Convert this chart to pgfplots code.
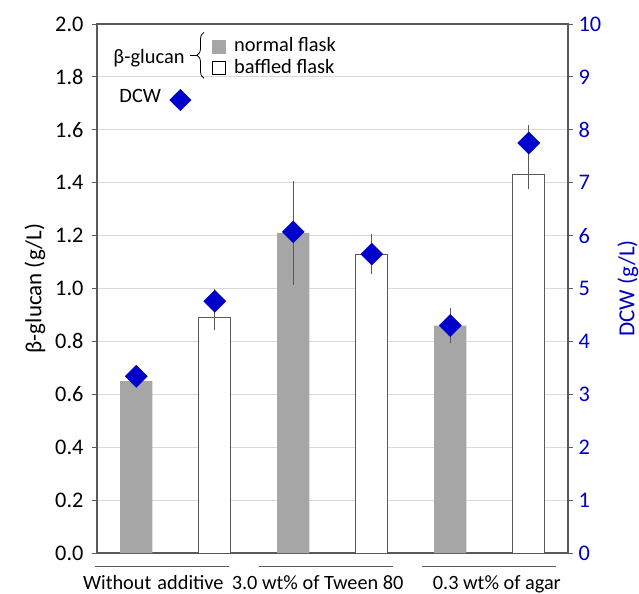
\documentclass[border=0pt]{standalone}
\usepackage{fontspec}
\setmainfont{Carlito}
\usepackage{pgfplots}
\pgfplotsset{compat=1.18}
\usetikzlibrary{decorations.pathreplacing}
\definecolor{barg}{RGB}{166,166,166}
\definecolor{axg}{RGB}{89,89,89}
\definecolor{gridg}{RGB}{217,217,217}
\definecolor{dblue}{RGB}{0,0,204}
\definecolor{tblue}{RGB}{0,0,192}
\definecolor{errg}{RGB}{89,89,89}
\newcommand{\tickfont}{\fontsize{22.3bp}{26bp}\selectfont}
\newcommand{\labfont}{\fontsize{23bp}{27bp}\selectfont}
\newcommand{\legfont}{\fontsize{20.4bp}{24bp}\selectfont}
\newcommand{\catfont}{\fontsize{20.3bp}{24bp}\selectfont}
\begin{document}
\begin{tikzpicture}[font=\legfont]
\path[use as bounding box] (-97bp,-41bp) rectangle (542bp,553bp);
\begin{axis}[
  at={(0,0)}, anchor=south west,
  scale only axis, width=471bp, height=529bp,
  xmin=-0.5, xmax=5.5, ymin=0, ymax=2,
  xtick=\empty,
  ytick={0,0.2,0.4,0.6,0.8,1.0,1.2,1.4,1.6,1.8,2.0},
  ytick pos=left,
  tick align=outside,
  major tick length=5bp,
  tick style={axg, line width=0.8bp},
  ymajorgrids, grid style={gridg, line width=0.9bp},
  axis line style={axg, line width=1.2bp},
  /pgf/number format/assume math mode=true,
  yticklabel style={font=\tickfont, xshift=-5bp, /pgf/number format/fixed, /pgf/number format/fixed zerofill, /pgf/number format/precision=1},
  ylabel={β-glucan (g/L)},
  ylabel style={font=\labfont, at={(axis description cs:-0.132,0.5)}, anchor=center},
  clip=false,
]
\addplot[ybar, bar width=0.41, bar shift=0pt, fill=barg, draw=none,
  error bars/.cd, y dir=both, y explicit,
  error bar style={errg, line width=0.8bp},
  error mark options={errg, line width=0.8bp, mark size=4bp}]
  coordinates {(0,0.65) +- (0,0) (2,1.21) +- (0,0.18) (4,0.86) +- (0,0.05)};
\addplot[ybar, bar width=0.41, bar shift=0pt, fill=white, draw=axg, line width=0.9bp,
  error bars/.cd, y dir=both, y explicit,
  error bar style={errg, line width=0.8bp},
  error mark options={errg, line width=0.8bp, mark size=4bp}]
  coordinates {(1,0.89) +- (0,0.03) (3,1.13) +- (0,0.06) (5,1.43) +- (0,0.04)};
% legend
\node[anchor=base west, inner sep=0] at (rel axis cs:0.0346,0.9257) {β-glucan};
\draw[decorate, decoration={brace, amplitude=7bp}, black, line width=0.8bp]
  (rel axis cs:0.2272,0.8974) -- (rel axis cs:0.2272,0.9843);
\draw[black, line width=0.8bp] (rel axis cs:0.1975,0.9408) -- (rel axis cs:0.2125,0.9408);
\node[fill=barg, minimum size=14bp, inner sep=0] at (rel axis cs:0.2582,0.9565) {};
\node[fill=white, draw=black, line width=0.8bp, minimum size=13bp, inner sep=0] at (rel axis cs:0.2582,0.9178) {};
\node[anchor=base west, inner sep=0] at (rel axis cs:0.2909,0.9471) {normal flask};
\node[anchor=base west, inner sep=0] at (rel axis cs:0.2909,0.9068) {baffled flask};
\node[anchor=base west, inner sep=0] at (rel axis cs:0.0473,0.8516) {DCW};
\node[inner sep=0] at (rel axis cs:0.1769,0.8563) {\textcolor{dblue}{\rotatebox{45}{\rule{15.5bp}{15.5bp}}}};
% category lines and labels
\draw[axg, line width=0.9bp] ([yshift=-13.7bp]axis cs:-0.525,0) -- ([yshift=-13.7bp]axis cs:1.182,0);
\draw[axg, line width=0.9bp] ([yshift=-13.7bp]axis cs:1.564,0) -- ([yshift=-13.7bp]axis cs:3.271,0);
\draw[axg, line width=0.9bp] ([yshift=-13.7bp]axis cs:3.640,0) -- ([yshift=-13.7bp]axis cs:5.347,0);
\node[font=\catfont, anchor=base west, inner sep=0] at ([yshift=-36bp]axis cs:-0.680,0) {Without\hspace{0.3em}additive};
\node[font=\catfont, anchor=base west, inner sep=0] at ([yshift=-36bp]axis cs:1.215,0) {3.0 wt\% of Tween 80};
\node[font=\catfont, anchor=base west, inner sep=0] at ([yshift=-36bp]axis cs:3.776,0) {0.3 wt\% of agar};
\end{axis}
\begin{axis}[
  at={(0,0)}, anchor=south west,
  scale only axis, width=471bp, height=529bp,
  xmin=-0.5, xmax=5.5, ymin=0, ymax=10,
  axis x line=none, axis y line*=right,
  ytick={0,1,2,3,4,5,6,7,8,9,10},
  tick align=outside, major tick length=5bp,
  tick style={axg, line width=0.8bp},
  axis line style={axg, line width=1.2bp},
  /pgf/number format/assume math mode=true,
  yticklabel style={font=\tickfont, tblue, xshift=2bp},
  ylabel={DCW (g/L)},
  ylabel style={font=\labfont, tblue, at={(axis description cs:1.127,0.5)}, anchor=center},
  clip=false,
]
\addplot[only marks, mark=square*, mark size=7.8bp,
  mark options={rotate=45, fill=dblue, draw=dblue},
  error bars/.cd, y dir=both, y explicit,
  error bar style={errg, line width=0.8bp},
  error mark options={errg, line width=0.8bp, mark size=4bp, rotate=0}]
  coordinates {(0,3.34) +- (0,0.1) (1,4.76) +- (0,0.15) (2,6.07) +- (0,0.25)
               (3,5.65) +- (0,0.1) (4,4.30) +- (0,0.1) (5,7.75) +- (0,0.26)};
\end{axis}
\end{tikzpicture}
\end{document}
